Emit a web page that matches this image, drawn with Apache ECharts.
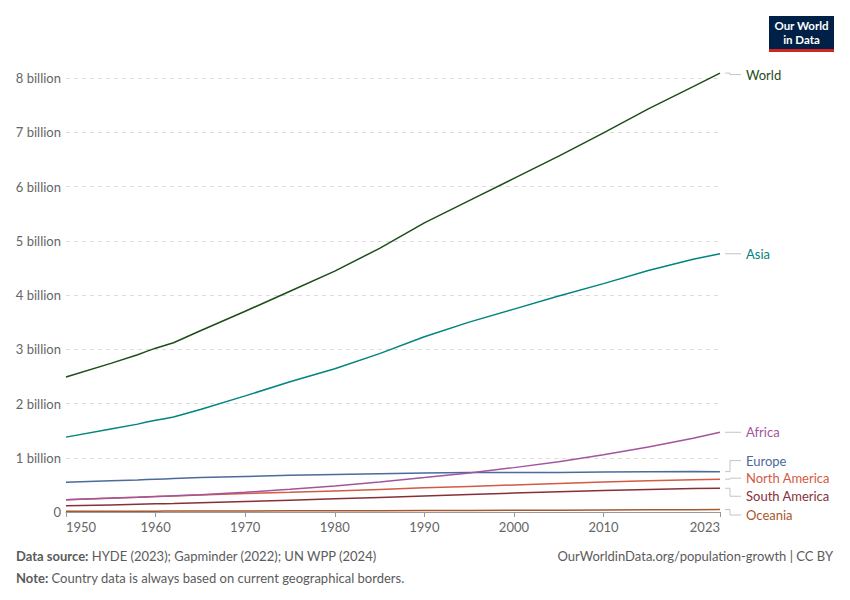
<!DOCTYPE html>
<html><head><meta charset="utf-8">
<script src="https://cdn.jsdelivr.net/npm/echarts@6/dist/echarts.min.js"></script>
<style>html,body{margin:0;padding:0;background:#fff}#c{width:850px;height:600px}</style>
</head><body><div id="c"></div>
<script>
const years = [1950,1955,1958,1959,1960,1961,1962,1965,1970,1975,1980,1985,1990,1995,2000,2005,2010,2015,2020,2023];
const world = [2.49,2.74,2.90,2.96,3.02,3.07,3.12,3.34,3.70,4.07,4.44,4.86,5.33,5.74,6.15,6.56,6.99,7.43,7.84,8.09];
const asia = [1.38,1.53,1.62,1.66,1.69,1.72,1.75,1.89,2.14,2.40,2.64,2.92,3.23,3.50,3.74,3.98,4.21,4.45,4.66,4.76];
const africa = [0.228,0.254,0.272,0.278,0.284,0.291,0.298,0.320,0.365,0.418,0.481,0.553,0.635,0.720,0.818,0.928,1.055,1.200,1.360,1.470];
const europe = [0.550,0.576,0.592,0.598,0.604,0.610,0.616,0.634,0.656,0.676,0.693,0.706,0.721,0.727,0.726,0.728,0.736,0.742,0.746,0.744];
const northAmerica = [0.228,0.256,0.273,0.279,0.285,0.291,0.297,0.314,0.339,0.363,0.389,0.416,0.445,0.471,0.499,0.526,0.552,0.575,0.595,0.605];
const southAmerica = [0.114,0.131,0.142,0.146,0.150,0.154,0.158,0.171,0.193,0.217,0.242,0.269,0.297,0.324,0.350,0.374,0.397,0.416,0.431,0.438];
const oceania = [0.0127,0.0142,0.0152,0.0155,0.0159,0.0163,0.0167,0.0178,0.0197,0.0214,0.0229,0.0247,0.0272,0.0291,0.0312,0.0339,0.0368,0.0397,0.0431,0.0455];
const xTicks = [1950,1960,1970,1980,1990,2000,2010,2023];
const seriesNames = ['World','Asia','Africa','Europe','North America','South America','Oceania'];
const seriesValues = [world,asia,africa,europe,northAmerica,southAmerica,oceania];
const colors = ['#1d4d19','#00847e','#a2559c','#4c6a9c','#d35a44','#883039','#a8582f'];
// vertical nudges (px) of the end labels so they don't overlap
const labelShift = [1.5, 0, 0, -11, -1, 8, 5.5];

const FONT = 'Lato, "Noto Sans", sans-serif';
const chart = echarts.init(document.getElementById('c'), null, {renderer:'svg'});

const lastIdx = years.length - 1;
const series = seriesNames.map((name, i) => ({
  name, type: 'line', data: years.map((y, j) => [y, seriesValues[i][j] * 1e9]),
  showSymbol: false, clip: false,
  lineStyle: {width: 1.5, color: colors[i]}, itemStyle: {color: colors[i]},
  emphasis: {disabled: true}, z: 10 - i
}));

series.push({
  name: 'labels', type: 'custom', clip: false, silent: true, z: 20,
  data: seriesNames.map((name, i) => [years[lastIdx], seriesValues[i][lastIdx] * 1e9, i]),
  renderItem: (params, api) => {
    const i = api.value(2);
    const p = api.coord([api.value(0), api.value(1)]);
    const ly = p[1] + labelShift[i];
    const x0 = p[0] + 5, xm = p[0] + 10, x1 = p[0] + 21;
    return {type: 'group', children: [
      {type: 'polyline', shape: {points: [[x0, p[1]], [xm, p[1]], [xm, ly], [x1, ly]]},
        style: {stroke: '#c4c4c4', lineWidth: 1, fill: null}},
      {type: 'text', style: {x: p[0] + 26, y: ly, text: seriesNames[i], fill: colors[i],
        font: '13px ' + FONT, verticalAlign: 'middle', align: 'left'}}
    ]};
  }
});

chart.setOption({
  animation: false,
  textStyle: {fontFamily: FONT},
  grid: {left: 66, right: 130, top: 78, bottom: 88, containLabel: false},
  xAxis: {
    type: 'value', min: 1950, max: 2023,
    splitLine: {show: false},
    axisLine: {show: true, lineStyle: {color: '#999', width: 1}},
    axisTick: {show: true, length: 5, lineStyle: {color: '#999'}, customValues: xTicks},
    axisLabel: {customValues: xTicks, color: '#666', fontSize: 13, margin: 8, fontFamily: FONT,
      alignMinLabel: 'left', alignMaxLabel: 'right', formatter: v => String(v)}
  },
  yAxis: {
    type: 'value', min: 0, max: 8e9, interval: 1e9,
    axisLine: {show: false}, axisTick: {show: false},
    splitLine: {show: true, lineStyle: {color: '#dcdcdc', type: [4, 4], width: 1}},
    axisLabel: {color: '#666', fontSize: 13, margin: 5, fontFamily: FONT,
      formatter: v => v === 0 ? '0' : (v / 1e9) + ' billion'}
  },
  series,
  graphic: [
    {type: 'group', left: 769, top: 16, children: [
      {type: 'rect', shape: {x: 0, y: 0, width: 65, height: 33}, style: {fill: '#002147'}},
      {type: 'rect', shape: {x: 0, y: 33, width: 65, height: 3}, style: {fill: '#ce261e'}},
      {type: 'text', style: {x: 32.5, y: 16.5, text: 'Our World\nin Data', fill: '#fff',
        font: 'bold 11.5px ' + FONT, lineHeight: 14, align: 'center', verticalAlign: 'middle'}}
    ]},
    {type: 'text', left: 16, top: 549, style: {
      text: '{b|Data source:} HYDE (2023); Gapminder (2022); UN WPP (2024)',
      rich: {b: {fontWeight: 'bold', fill: '#5b5b5b', fontSize: 13, fontFamily: FONT}},
      fill: '#5b5b5b', font: '13px ' + FONT}},
    {type: 'text', right: 17, top: 549, style: {
      text: 'OurWorldinData.org/population-growth | CC BY', fill: '#5b5b5b', font: '13px ' + FONT}},
    {type: 'text', left: 16, top: 571, style: {
      text: '{b|Note:} Country data is always based on current geographical borders.',
      rich: {b: {fontWeight: 'bold', fill: '#5b5b5b', fontSize: 13, fontFamily: FONT}},
      fill: '#5b5b5b', font: '13px ' + FONT}}
  ]
});
</script></body></html>
